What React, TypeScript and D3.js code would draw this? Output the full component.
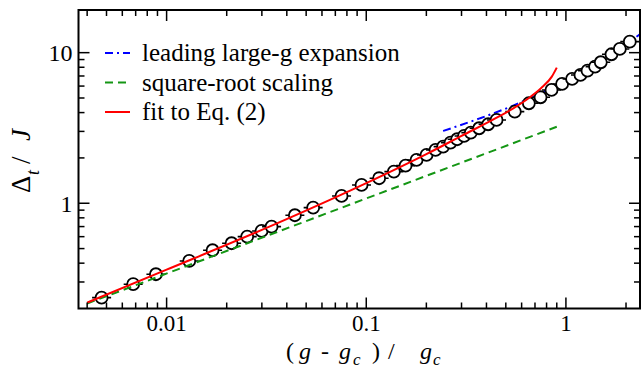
import * as d3 from 'd3'

// reduced coupling (g - gc)/gc of the measured points
const coupling = [
  0.004725, 0.0068, 0.00884, 0.01298, 0.01699, 0.02116, 0.02533, 0.0299, 0.03355, 0.0439,
  0.0542, 0.0752, 0.0947, 0.116, 0.1375, 0.1573, 0.1786, 0.2004, 0.2223, 0.2427,
  0.2643, 0.2852, 0.309, 0.334, 0.3675, 0.4077, 0.4493, 0.5546, 0.652, 0.7463,
  0.847, 0.957, 1.074, 1.183, 1.283, 1.4, 1.495, 1.691, 1.862, 2.089,
]
// gap Delta_t / J
const gap = [
  0.2361, 0.29, 0.3377, 0.4139, 0.4875, 0.5425, 0.6003, 0.6547, 0.6993, 0.8324,
  0.935, 1.118, 1.323, 1.466, 1.621, 1.777, 1.939, 2.093, 2.259, 2.376,
  2.526, 2.661, 2.798, 2.943, 3.148, 3.346, 3.574, 4.058, 4.613, 5.057,
  5.653, 6.197, 6.689, 7.111, 7.596, 8.072, 8.636, 9.759, 10.58, 11.83,
]

const leadX = [0.2427, 0.37, 0.544, 1.0, 1.862, 2.4]
const leadY = [3.02, 3.66, 4.45, 6.55, 10.7, 13.5]

const sqrtX = [0.004, 0.9]
const sqrtY = [0.216, 3.22]

const fitX = [0.004, 0.01, 0.03, 0.1, 0.2, 0.3, 0.45, 0.55, 0.65, 0.75, 0.85, 0.9]
const fitY = [0.219, 0.362, 0.665, 1.36, 2.12, 2.8, 3.7, 4.3, 4.98, 5.8, 6.93, 7.95]

const xTickVals = [0.01, 0.1, 1]
const xTickLabels = ['0.01', '0.1', '1']
const yTickVals = [1, 10]
const yTickLabels = ['1', '10']

const legendLabels = ['leading large-g expansion', 'square-root scaling', 'fit to Eq. (2)']

const W = 641, H = 372
const L = 78.5, R = 640, T = 10, B = 308.5
const FONT = '"Liberation Serif", "Times New Roman", Times, "DejaVu Serif", serif'

const isDecade = (v: number) => Math.abs(Math.log10(v) - Math.round(Math.log10(v))) < 1e-6

export default function App() {
  const x = d3.scaleLog().domain([0.00362, 2.35]).range([L, R])
  const y = d3.scaleLog().domain([0.2, 19.2]).range([B, T])

  const curves = [
    { xs: leadX, ys: leadY, color: '#0000ff', dash: '8,4,2,4' },
    { xs: sqrtX, ys: sqrtY, color: '#149614', dash: '8,5' },
    { xs: fitX, ys: fitY, color: '#ff0000', dash: undefined as string | undefined },
  ]

  const line = d3.line<[number, number]>()
    .x(d => x(d[0]))
    .y(d => y(d[1]))
    .curve(d3.curveMonotoneX)

  const pathOf = (c: typeof curves[number]) =>
    line(c.xs.map((v, i) => [v, c.ys[i]] as [number, number])) || ''

  const xMinor = x.ticks().filter(v => !isDecade(v) && x(v) > L + 1 && x(v) < R - 1)
  const yMinor = y.ticks().filter(v => !isDecade(v) && y(v) < B - 1 && y(v) > T + 1)

  const r = 6
  const pts = coupling.map((v, i) => ({ cx: x(v), cy: y(gap[i]) }))
  const txt = { fontFamily: FONT }

  return (
    <svg width={W} height={H} style={{ position: 'absolute', left: 0, top: 0, background: '#fff', fontFamily: FONT }}>
      <defs>
        <clipPath id="plot">
          <rect x={L} y={T} width={R - L} height={B - T} />
        </clipPath>
      </defs>

      <g clipPath="url(#plot)">
        <path d={pathOf(curves[0])} fill="none" stroke={curves[0].color} strokeWidth={2}
          strokeDasharray={curves[0].dash} />
        {pts.map((p, i) => (
          <g key={i}>
            <line x1={p.cx - r - 3.5} x2={p.cx + r + 3.5} y1={p.cy} y2={p.cy} stroke="#000" strokeWidth={1.6} />
            <circle cx={p.cx} cy={p.cy} r={r} fill="#fff" stroke="#000" strokeWidth={1.8} />
          </g>
        ))}
        <path d={pathOf(curves[1])} fill="none" stroke={curves[1].color} strokeWidth={2}
          strokeDasharray={curves[1].dash} />
        <path d={pathOf(curves[2])} fill="none" stroke={curves[2].color} strokeWidth={2} />
      </g>

      {/* ticks, inward on all four sides */}
      <g stroke="#000" strokeWidth={1.5}>
        {xTickVals.map(v => (
          <g key={'xM' + v}>
            <line x1={x(v)} x2={x(v)} y1={B} y2={B - 11} />
            <line x1={x(v)} x2={x(v)} y1={T} y2={T + 11} />
          </g>
        ))}
        {xMinor.map(v => (
          <g key={'xm' + v}>
            <line x1={x(v)} x2={x(v)} y1={B} y2={B - 6} />
            <line x1={x(v)} x2={x(v)} y1={T} y2={T + 6} />
          </g>
        ))}
        {yTickVals.map(v => (
          <g key={'yM' + v}>
            <line x1={L} x2={L + 11} y1={y(v)} y2={y(v)} />
            <line x1={R} x2={R - 11} y1={y(v)} y2={y(v)} />
          </g>
        ))}
        {yMinor.map(v => (
          <g key={'ym' + v}>
            <line x1={L} x2={L + 6} y1={y(v)} y2={y(v)} />
            <line x1={R} x2={R - 6} y1={y(v)} y2={y(v)} />
          </g>
        ))}
      </g>
      <rect x={L} y={T} width={R - L} height={B - T} fill="none" stroke="#000" strokeWidth={2} />

      {xTickVals.map((v, i) => (
        <text key={'xl' + v} x={x(v)} y={331} fontSize={23} textAnchor="middle" style={txt}>{xTickLabels[i]}</text>
      ))}
      {yTickVals.map((v, i) => (
        <text key={'yl' + v} x={72.5} y={y(v) + 8.5} fontSize={24} textAnchor="end" style={txt}>{yTickLabels[i]}</text>
      ))}

      {/* legend */}
      {legendLabels.map((lab, i) => {
        const ly = 53 + i * 29.5
        const c = curves[i]
        return (
          <g key={lab}>
            <line x1={105} x2={130} y1={ly} y2={ly} stroke={c.color} strokeWidth={2}
              strokeDasharray={c.dash} />
            <text x={142} y={ly + 8} fontSize={25} style={txt}>{lab}</text>
          </g>
        )
      })}

      {/* x title */}
      <text y={359} fontSize={24} style={txt}>
        <tspan x={286}>(</tspan>
        <tspan x={299} fontStyle="italic">g</tspan>
        <tspan x={321}>-</tspan>
        <tspan x={339} fontStyle="italic">g</tspan>
        <tspan x={353} dy={6} fontSize={17} fontStyle="italic">c</tspan>
        <tspan x={372} dy={-6}>)</tspan>
        <tspan x={388}>/</tspan>
        <tspan x={420} fontStyle="italic">g</tspan>
        <tspan x={433} dy={6} fontSize={17} fontStyle="italic">c</tspan>
      </text>

      {/* y title */}
      <g transform="translate(30,0) rotate(-90)">
        <text y={0} fontSize={27} style={txt}>
          <tspan x={-193}>Δ</tspan>
          <tspan x={-175} dy={9} fontSize={18} fontStyle="italic">t</tspan>
          <tspan x={-164} dy={-9}>/</tspan>
          <tspan x={-141} fontStyle="italic">J</tspan>
        </text>
      </g>
    </svg>
  )
}
